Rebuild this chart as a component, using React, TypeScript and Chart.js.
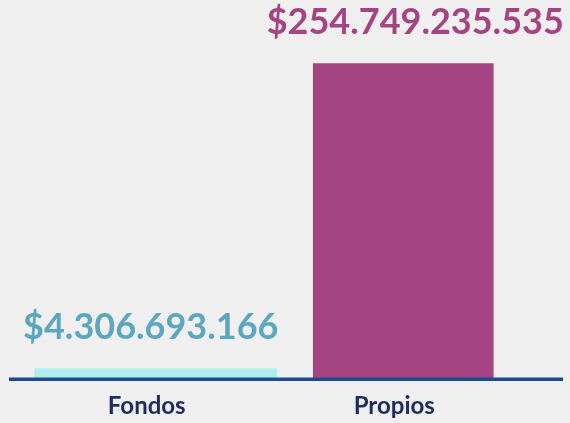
import React, { useEffect, useRef } from "react";
import { Chart, registerables } from "chart.js";

Chart.register(...registerables);

const categories = ["Fondos", "Propios"];
const fondosValues = [4306693166, null];
const propiosValues = [null, 254749235535];
const valueLabels = ["$4.306.693.166", "$254.749.235.535"];

const labelColors = ["#5ba7c0", "#a64483"];
const labelShift = [-5, 12];

const valueLabelPlugin = {
  id: "valueLabels",
  afterDatasetsDraw(chart: any) {
    const ctx = chart.ctx;
    const y = chart.scales.y;
    const zeroY = y.getPixelForValue(0);
    ctx.save();
    ctx.strokeStyle = "#1d4b8a";
    ctx.lineWidth = 3.5;
    ctx.beginPath();
    ctx.moveTo(9, zeroY + 1);
    ctx.lineTo(563, zeroY + 1);
    ctx.stroke();
    chart.data.datasets.forEach((ds: any, di: number) => {
      const meta = chart.getDatasetMeta(di);
      meta.data.forEach((el: any, i: number) => {
        if (ds.data[i] == null) return;
        ctx.font = "bold 36px Lato";
        ctx.fillStyle = labelColors[di];
        ctx.textAlign = "center";
        ctx.textBaseline = "alphabetic";
        ctx.fillText(valueLabels[i], el.x + labelShift[i], el.y - 29);
      });
    });
    ctx.restore();
  },
};

export default function App() {
  const ref = useRef<HTMLCanvasElement>(null);
  useEffect(() => {
    document.body.style.margin = "0";
    const chart = new Chart(ref.current!, {
      type: "bar",
      data: {
        labels: categories,
        datasets: [
          {
            data: fondosValues,
            backgroundColor: "#aeeeee",
            barPercentage: 0.98,
            categoryPercentage: 1,
            minBarLength: 10,
            grouped: false,
          } as any,
          {
            data: propiosValues,
            backgroundColor: "#a64483",
            barPercentage: 0.73,
            categoryPercentage: 1,
            grouped: false,
          } as any,
        ],
      },
      options: {
        animation: false,
        responsive: false,
        layout: { padding: { top: 32, left: 32, right: 43, bottom: -4 } },
        plugins: { legend: { display: false }, tooltip: { enabled: false } },
        scales: {
          x: {
            grid: { display: false },
            border: { display: false },
            ticks: {
              color: "#1f2c5c",
              font: { family: "Lato", weight: "bold", size: 24 },
              padding: 6,
              labelOffset: -9,
            },
          },
          y: { display: false, min: 0, max: 280000000000 },
        },
      },
      plugins: [valueLabelPlugin],
    });
    return () => chart.destroy();
  }, []);
  return (
    <div style={{ width: 570, height: 423, background: "#efefef" }}>
      <canvas ref={ref} width={570} height={423} />
    </div>
  );
}
